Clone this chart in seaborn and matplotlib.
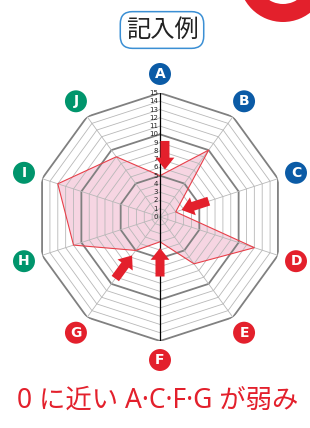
import numpy as np
import matplotlib.pyplot as plt
import matplotlib.patches as mpatches
import seaborn as sns

# chart data
labels = ["A", "B", "C", "D", "E", "F", "G", "H", "I", "J"]
values = [5, 10, 2, 12, 7, 3, 5, 11, 13, 9]
label_colors = ["#0b5ba6", "#0b5ba6", "#0b5ba6",
                "#e3202c", "#e3202c", "#e3202c", "#e3202c",
                "#00956c", "#00956c", "#00956c"]
levels = list(range(0, 16))
weak = ["A", "C", "F", "G"]
title = "記入例"
caption = "0 に近い A·C·F·G が弱み"

red = "#e3202c"

sns.set_theme(style="white")
plt.rcParams["font.family"] = ["Noto Sans CJK JP", "DejaVu Sans"]

fig = plt.figure(figsize=(3.10, 4.28), dpi=100)

# overlay in pixel coords for decorations
deco = fig.add_axes([0, 0, 1, 1])
deco.set_xlim(0, 310)
deco.set_ylim(428, 0)
deco.axis("off")
deco.add_patch(mpatches.Wedge((283, -22), 44, 0, 360, width=18, color=red, lw=0))

ax = fig.add_axes([36 / 310, 87 / 428, 248 / 310, 248 / 428], projection="polar")
ax.set_theta_zero_location("N")
ax.set_theta_direction(-1)
ax.set_ylim(0, 15)
ax.set_axis_off()

n = len(labels)
angles = np.arange(n) * 2 * np.pi / n
closed = np.append(angles, angles[0])

# data polygon
vals_closed = values + values[:1]
ax.fill(closed, vals_closed, color="#f6d5e2", zorder=1, lw=0)

# decagon grid
for lv in levels[1:]:
    major = lv % 5 == 0
    ax.plot(closed, [lv] * (n + 1),
            color="#808080" if major else "#b8b8b8",
            lw=1.3 if major else 0.6, zorder=2)
for a in angles:
    ax.plot([a, a], [0, 15], color="#b8b8b8", lw=0.6, zorder=2)
ax.plot([0, 0], [0, 15], color="black", lw=0.9, zorder=4)
ax.plot([np.pi, np.pi], [0, 15], color="black", lw=0.9, zorder=4)

sns.lineplot(x=closed, y=vals_closed, ax=ax, sort=False, estimator=None,
             color="#e8404a", lw=0.8, zorder=3)

# scale numbers on the A axis
for lv in levels:
    ax.annotate(str(lv), xy=(0, lv), xytext=(-1.5, 0), textcoords="offset points",
                ha="right", va="center", fontsize=5, family="DejaVu Sans",
                color="#222222", zorder=5)

# circled axis labels
lab_r = 17.3
ax.scatter(angles, [lab_r] * n, s=250, c=label_colors, clip_on=False, zorder=5,
           linewidths=0)
for a, lab in zip(angles, labels):
    ax.text(a, lab_r, lab, color="white", fontsize=10, fontweight="bold",
            ha="center", va="center", family="DejaVu Sans", zorder=6)


def pol(axis_angle, d, p):
    # point at distance d along the axis, shifted p sideways
    return axis_angle + np.arctan2(p, d), np.hypot(d, p)


# arrows pointing at the weak items
offsets = {"A": 0.6, "C": 0.0, "F": 0.0, "G": 0.0}
for lab in weak:
    k = labels.index(lab)
    v = values[k]
    tip = pol(angles[k], v + 0.75, offsets[lab])
    tail = pol(angles[k], v + 4.2, offsets[lab])
    ax.annotate("", xy=tip, xytext=tail,
                arrowprops=dict(arrowstyle="simple,head_length=0.85,head_width=1.35,tail_width=0.65",
                                color=red, lw=0, shrinkA=0, shrinkB=0, mutation_scale=10),
                zorder=6)

fig.text(162 / 310, 1 - 30 / 428, title, ha="center", va="center", fontsize=17.5,
         color="#222222",
         bbox=dict(boxstyle="round,pad=0.22,rounding_size=0.5", fc="white",
                   ec="#3b8fd4", lw=1.1))
fig.text(158 / 310, 1 - 401 / 428, caption, ha="center", va="center",
         fontsize=19, color=red, family=["Noto Sans", "Noto Sans CJK JP"])

fig.savefig("out.png", dpi=100)
